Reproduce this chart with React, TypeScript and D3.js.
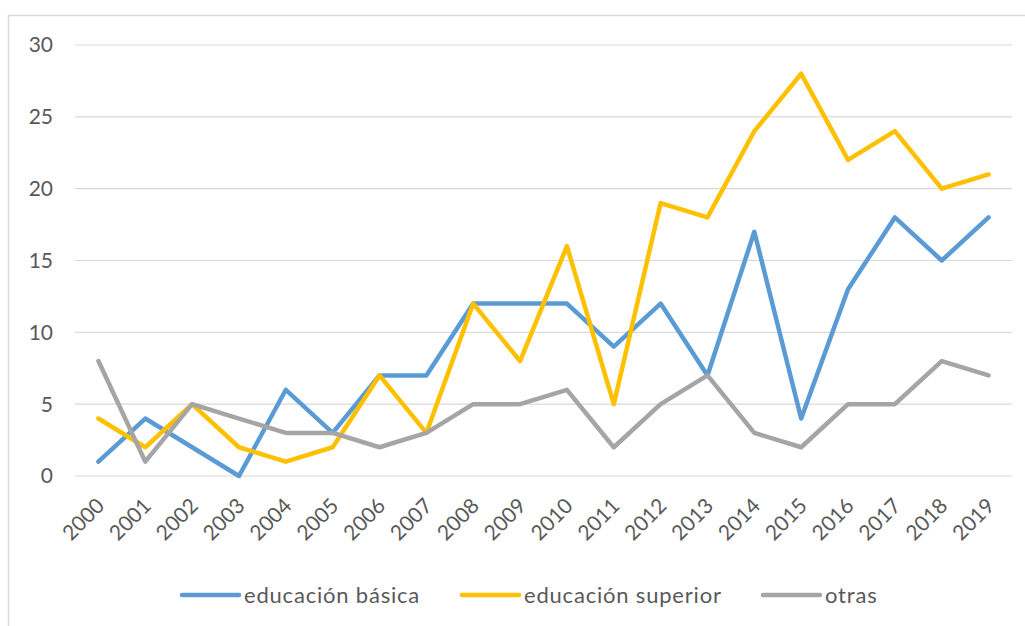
import { useRef, useEffect } from "react";
import * as d3 from "d3";

const years = [
  "2000", "2001", "2002", "2003", "2004", "2005", "2006", "2007", "2008", "2009",
  "2010", "2011", "2012", "2013", "2014", "2015", "2016", "2017", "2018", "2019",
];
const basica = [1, 4, 2, 0, 6, 3, 7, 7, 12, 12, 12, 9, 12, 7, 17, 4, 13, 18, 15, 18];
const superior = [4, 2, 5, 2, 1, 2, 7, 3, 12, 8, 16, 5, 19, 18, 24, 28, 22, 24, 20, 21];
const otras = [8, 1, 5, 4, 3, 3, 2, 3, 5, 5, 6, 2, 5, 7, 3, 2, 5, 5, 8, 7];
const yTicks = [0, 5, 10, 15, 20, 25, 30];

const seriesNames = ["educación básica", "educación superior", "otras"];
const seriesColors = ["#5B9BD5", "#FFC000", "#A5A5A5"];

const App = () => {
  const container = useRef<SVGSVGElement | null>(null);

  useEffect(() => {
    const width = 1025;
    const height = 626;
    const plot = { l: 75, r: 1012, t: 45, b: 476 };
    const font = "Lato, 'Open Sans', sans-serif";
    const fontSize = 21;
    const textColor = "#595959";

    const svg = d3.select(container.current);
    svg.selectAll("*").remove();

    // chart frame
    svg
      .append("rect")
      .attr("x", 8.5)
      .attr("y", 15.5)
      .attr("width", width + 10)
      .attr("height", height + 10)
      .attr("fill", "#fff")
      .attr("stroke", "#d9d9d9")
      .attr("stroke-width", 1.5);

    const x = d3.scalePoint().domain(years).range([plot.l, plot.r]).padding(0.5);
    const y = d3.scaleLinear().domain([0, 30]).range([plot.b, plot.t]);

    // gridlines
    svg
      .append("g")
      .selectAll("line")
      .data(yTicks)
      .join("line")
      .attr("x1", plot.l)
      .attr("x2", plot.r)
      .attr("y1", (d) => y(d))
      .attr("y2", (d) => y(d))
      .attr("stroke", "#d9d9d9")
      .attr("stroke-width", 1.2);

    // y labels
    svg
      .append("g")
      .selectAll("text")
      .data(yTicks)
      .join("text")
      .attr("x", 53)
      .attr("y", (d) => y(d))
      .attr("dy", "0.35em")
      .attr("text-anchor", "end")
      .attr("font-family", font)
      .attr("font-size", fontSize)
      .attr("fill", textColor)
      .text((d) => d);

    // x labels rotated
    svg
      .append("g")
      .selectAll("text")
      .data(years)
      .join("text")
      .attr(
        "transform",
        (d) => `translate(${(x(d) as number) + 2},${plot.b + 26}) rotate(-45)`
      )
      .attr("text-anchor", "end")
      .attr("dy", "0.35em")
      .attr("font-family", font)
      .attr("font-size", fontSize)
      .attr("fill", textColor)
      .text((d) => d);

    const line = d3
      .line<number>()
      .x((_, i) => x(years[i]) as number)
      .y((d) => y(d));

    const allSeries = [basica, superior, otras];
    svg
      .append("g")
      .selectAll("path")
      .data(allSeries)
      .join("path")
      .attr("d", (d) => line(d))
      .attr("fill", "none")
      .attr("stroke", (_, i) => seriesColors[i])
      .attr("stroke-width", 4.5)
      .attr("stroke-linejoin", "round")
      .attr("stroke-linecap", "round");

    // legend
    const legendX = [182, 462, 763];
    const legendY = 595;
    const lg = svg
      .append("g")
      .selectAll("g")
      .data(seriesNames)
      .join("g")
      .attr("transform", (_, i) => `translate(${legendX[i]},${legendY})`);
    lg.append("line")
      .attr("x1", 0)
      .attr("x2", 57)
      .attr("stroke", (_, i) => seriesColors[i])
      .attr("stroke-width", 4.5)
      .attr("stroke-linecap", "round");
    lg.append("text")
      .attr("x", 62)
      .attr("dy", "0.35em")
      .attr("font-family", font)
      .attr("font-size", 22)
      .attr("letter-spacing", 0.8)
      .attr("fill", textColor)
      .text((d) => d);
  });

  return <svg ref={container} width={1025} height={626} style={{ display: "block", position: "absolute", left: 0, top: 0 }} />;
};

export default App;
